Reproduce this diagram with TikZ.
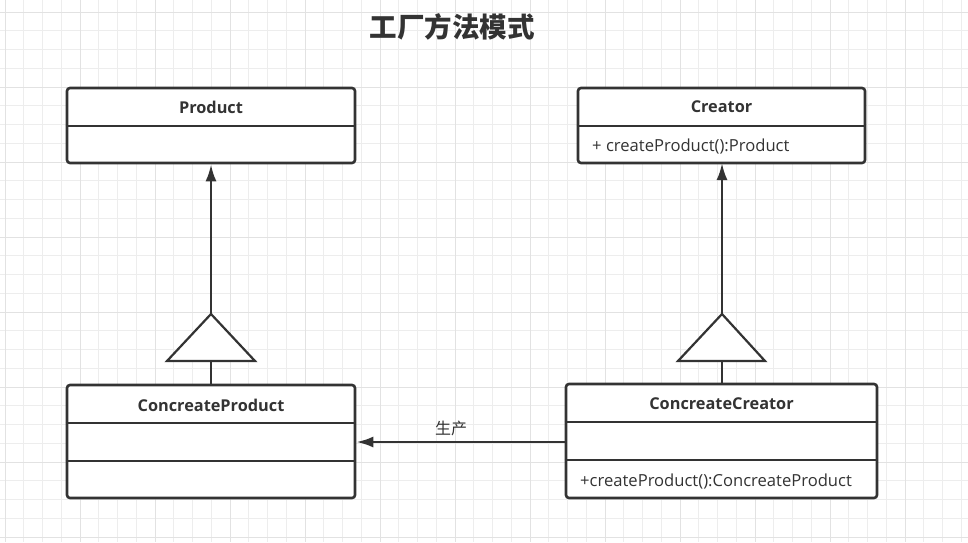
\documentclass[tikz,border=0pt]{standalone}
\usepackage{fontspec}
\setmainfont{Open Sans}
\newfontfamily\cjk{Noto Sans CJK SC}
\usetikzlibrary{arrows.meta}
\definecolor{ln}{HTML}{333333}
\definecolor{gminor}{HTML}{EDEDED}
\definecolor{gmajor}{HTML}{E2E2E2}
\tikzset{
  classbox/.style={draw=ln, line width=2.6pt, rounded corners=3pt, fill=white, inner sep=0pt},
  divider/.style={draw=ln, line width=2.2pt},
  conn/.style={draw=ln, line width=2.6pt},
  genhead/.style={draw=ln, line width=2.2pt, fill=white, line join=miter},
  lbl/.style={text=ln, font=\fontsize{16.6pt}{19pt}\selectfont, inner sep=0pt},
  hdr/.style={lbl, font=\fontsize{16.3pt}{19pt}\selectfont\bfseries},
}
\begin{document}
\begin{tikzpicture}[x=1pt,y=-1pt]
\useasboundingbox (0,0) rectangle (968,542);
\fill[white] (0,0) rectangle (968,542);
% grid
\foreach \i in {0,...,52} {
  \draw[gminor, line width=1pt] ({5+18.75*\i},0) -- ({5+18.75*\i},542);
}
\foreach \i in {0,...,29} {
  \draw[gminor, line width=1pt] (0,{12+18.75*\i}) -- (968,{12+18.75*\i});
}
\foreach \i in {0,...,13} {
  \draw[gmajor, line width=1pt] ({5+75*\i},0) -- ({5+75*\i},542);
}
\foreach \i in {0,...,7} {
  \draw[gmajor, line width=1pt] (0,{12+75*\i}) -- (968,{12+75*\i});
}
% title
\node[text=ln, inner sep=0pt, font=\cjk\bfseries\fontsize{27.5pt}{31pt}\selectfont] (title) at (452,27) {工厂方法模式};

% Product
\node[classbox, minimum width=288pt, minimum height=75pt] (product) at (211,125.5) {};
\draw[divider] (product.west |- 0,126) -- (product.east |- 0,126);
\node[hdr] (productname) at (211,107) {Product};

% Creator
\node[classbox, minimum width=287pt, minimum height=75pt] (creator) at (721.5,125.5) {};
\draw[divider] (creator.west |- 0,126) -- (creator.east |- 0,126);
\node[hdr] (creatorname) at (721.5,107) {Creator};
\node[lbl, anchor=west] (creatorop) at (592,146.5) {+\ createProduct():Product};

% ConcreateProduct
\node[classbox, minimum width=288pt, minimum height=113pt] (cproduct) at (211,441.5) {};
\draw[divider] (cproduct.west |- 0,423) -- (cproduct.east |- 0,423);
\draw[divider] (cproduct.west |- 0,461) -- (cproduct.east |- 0,461);
\node[hdr] (cproductname) at (211,405) {ConcreateProduct};

% ConcreateCreator
\node[classbox, minimum width=311pt, minimum height=114pt] (ccreator) at (721.5,441) {};
\draw[divider] (ccreator.west |- 0,422) -- (ccreator.east |- 0,422);
\draw[divider] (ccreator.west |- 0,460) -- (ccreator.east |- 0,460);
\node[hdr] (ccreatorname) at (721.5,403.5) {ConcreateCreator};
\node[lbl, anchor=west] (ccreatorop) at (580,481.5) {+createProduct():ConcreateProduct};

% generalization left
\coordinate (lapex) at (211,314);
\coordinate (lbase) at (211,361);
\draw[conn, -{Latex[length=17pt,width=11pt]}] (lbase) -- (product.south);
\draw[conn] (lbase) -- (cproduct.north);
\draw[genhead] (lapex) -- (255,361) -- (167,361) -- cycle;

% generalization right
\coordinate (rapex) at (722,314);
\coordinate (rbase) at (722,361);
\draw[conn, -{Latex[length=17pt,width=11pt]}] (rbase) -- (722,163);
\draw[conn] (rbase) -- (ccreator.north -| rbase);
\draw[genhead] (rapex) -- (765,361) -- (678,361) -- cycle;

% produce
\coordinate (pstart) at (ccreator.west |- 0,442);
\draw[conn, -{Latex[length=17pt,width=11pt]}] (pstart) -- (cproduct.east |- pstart);
\node[text=ln, inner sep=0pt, font=\cjk\fontsize{16pt}{19pt}\selectfont] (producelbl) at (451,428) {生产};
\end{tikzpicture}
\end{document}
